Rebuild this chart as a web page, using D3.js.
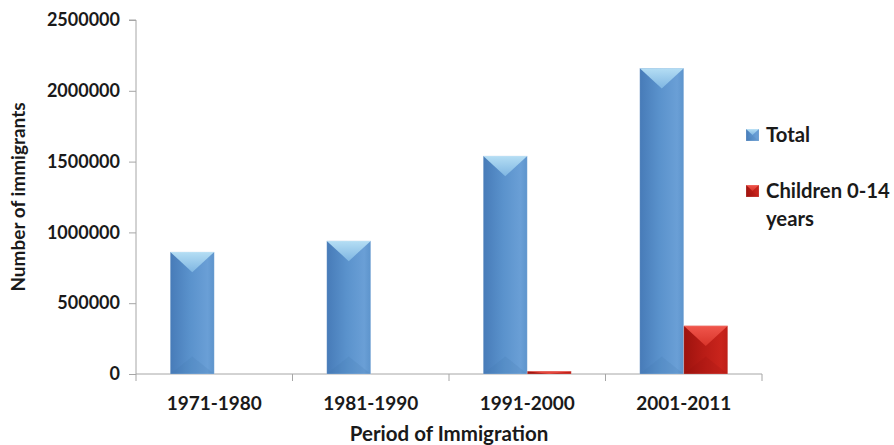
<!DOCTYPE html>
<html>
<head>
<meta charset="utf-8">
<script src="https://cdn.jsdelivr.net/npm/d3@7"></script>
<style>
  html, body { margin: 0; padding: 0; background: #fff; }
  svg { display: block; }
  text { font-family: Lato, "Open Sans", sans-serif; font-weight: 700; fill: #1a1a1a; }
</style>
</head>
<body>
<script>
// Immigrants by period of arrival
const periods = ["1971-1980", "1981-1990", "1991-2000", "2001-2011"];
const seriesNames = ["Total", "Children 0-14 years"];
const totalValues = [862000, 940000, 1540000, 2160000];
const childValues = [0, 0, 20000, 340000];
const yTicks = [0, 500000, 1000000, 1500000, 2000000, 2500000];

const W = 894, H = 445;
const plot = { left: 136, right: 762, top: 20, bottom: 374 };

const svg = d3.select("body").append("svg").attr("width", W).attr("height", H);
const defs = svg.append("defs");

// Bevelled fills: body shading plus a lighter top facet
const palettes = {
  blue: { body: ["#477bb8", "#5a92cc", "#6a9fd6", "#5d94cc"], top: ["#b5def4", "#7fb6e2"], bottom: "#3f70aa" },
  red:  { body: ["#9d130e", "#b81c16", "#c9241c", "#be1f18"], top: ["#f0564c", "#d8342a"], bottom: "#8c100b" }
};
Object.entries(palettes).forEach(([key, p]) => {
  const g = defs.append("linearGradient").attr("id", "body-" + key)
    .attr("x1", 0).attr("x2", 1).attr("y1", 0).attr("y2", 0);
  [[0, p.body[0]], [0.45, p.body[1]], [0.85, p.body[2]], [1, p.body[3]]]
    .forEach(([o, c]) => g.append("stop").attr("offset", o).attr("stop-color", c));
  const t = defs.append("linearGradient").attr("id", "top-" + key)
    .attr("x1", 0).attr("x2", 0).attr("y1", 0).attr("y2", 1);
  t.append("stop").attr("offset", 0).attr("stop-color", p.top[0]);
  t.append("stop").attr("offset", 1).attr("stop-color", p.top[1]);
});

const x0 = d3.scaleBand().domain(periods).range([plot.left, plot.right]).paddingInner(0).paddingOuter(0);
const groupW = 88;
const x1 = d3.scaleBand().domain(seriesNames)
  .range([(x0.bandwidth() - groupW) / 2, (x0.bandwidth() + groupW) / 2]);
const y = d3.scaleLinear().domain([0, 2500000]).range([plot.bottom, plot.top]);

// Axes
const axisColor = "#a6a6a6";
const yAxis = svg.append("g").attr("transform", `translate(${plot.left},0)`)
  .call(d3.axisLeft(y).tickValues(yTicks).tickSize(7).tickPadding(9).tickFormat(d3.format("d")));
yAxis.select(".domain").attr("stroke", axisColor).attr("d", `M-7,${plot.top}H0V${plot.bottom}`);
yAxis.selectAll(".tick line").attr("stroke", axisColor);
yAxis.selectAll(".tick text").attr("font-size", 18).attr("fill", "#1a1a1a")
  .attr("font-family", "Lato, sans-serif").attr("font-weight", 700);

const xAxisG = svg.append("g").attr("transform", `translate(0,${plot.bottom})`);
xAxisG.append("line").attr("x1", plot.left).attr("x2", plot.right).attr("stroke", axisColor);
const boundaries = periods.map(p => x0(p)).concat([plot.right]);
xAxisG.selectAll("line.tk").data(boundaries).join("line").attr("class", "tk")
  .attr("x1", d => d).attr("x2", d => d).attr("y1", 0).attr("y2", 7).attr("stroke", axisColor);
xAxisG.selectAll("text").data(periods).join("text")
  .attr("x", d => x0(d) + x0.bandwidth() / 2).attr("y", 36)
  .attr("text-anchor", "middle").attr("font-size", 19).text(d => d);

// Axis titles
svg.append("text").attr("x", (plot.left + plot.right) / 2).attr("y", 441)
  .attr("text-anchor", "middle").attr("font-size", 20.5).text("Period of Immigration");
svg.append("text").attr("transform", "translate(25,197) rotate(-90)")
  .attr("text-anchor", "middle").attr("font-size", 19).text("Number of immigrants");

// Bars
function bevelBar(g, x, yTop, w, h, key) {
  if (h <= 0) return;
  g.append("rect").attr("x", x).attr("y", yTop).attr("width", w).attr("height", h)
    .attr("fill", `url(#body-${key})`);
  const tri = Math.min(w * 0.46, h);
  const cx = x + w / 2;
  // lower facet, faint
  const bt = Math.min(w * 0.4, h / 2);
  g.append("path")
    .attr("d", `M${x},${yTop + h}L${cx},${yTop + h - bt}L${x + w},${yTop + h}Z`)
    .attr("fill", palettes[key].bottom).attr("opacity", 0.15);
  // upper facet
  g.append("path")
    .attr("d", `M${x},${yTop}L${x + w},${yTop}L${cx},${yTop + tri}Z`)
    .attr("fill", `url(#top-${key})`);
  g.append("rect").attr("x", x).attr("y", yTop).attr("width", w).attr("height", h)
    .attr("fill", "none").attr("stroke", "#ffffff").attr("stroke-opacity", 0.25).attr("stroke-width", 0.8);
}

const rows = periods.map((p, i) => ({ period: p, values: [totalValues[i], childValues[i]] }));
const bars = svg.append("g");
rows.forEach(r => {
  r.values.forEach((v, j) => {
    const name = seriesNames[j];
    const bx = x0(r.period) + x1(name);
    bevelBar(bars, bx, y(v), x1.bandwidth(), y(0) - y(v), j === 0 ? "blue" : "red");
  });
});

// Legend (labels kept inside the right edge)
const legend = svg.append("g");
const legendX = 766, legendMaxW = 124;
const legendItems = [
  { key: "blue", lines: ["Total"], baseline: 142 },
  { key: "red", lines: ["Children 0-14", "years"], baseline: 198 }
];
const legendTexts = [];
legendItems.forEach(it => {
  bevelBar(legend, 746, it.baseline - 13, 13, 12, it.key);
  it.lines.forEach((ln, k) => {
    legendTexts.push(legend.append("text").attr("x", legendX).attr("y", it.baseline + k * 28)
      .attr("font-size", 21).text(ln));
  });
});
const widest = d3.max(legendTexts, t => t.node().getComputedTextLength());
if (widest > legendMaxW) {
  const fs = 21 * legendMaxW / widest;
  legendTexts.forEach(t => t.attr("font-size", fs));
}
</script>
</body>
</html>
